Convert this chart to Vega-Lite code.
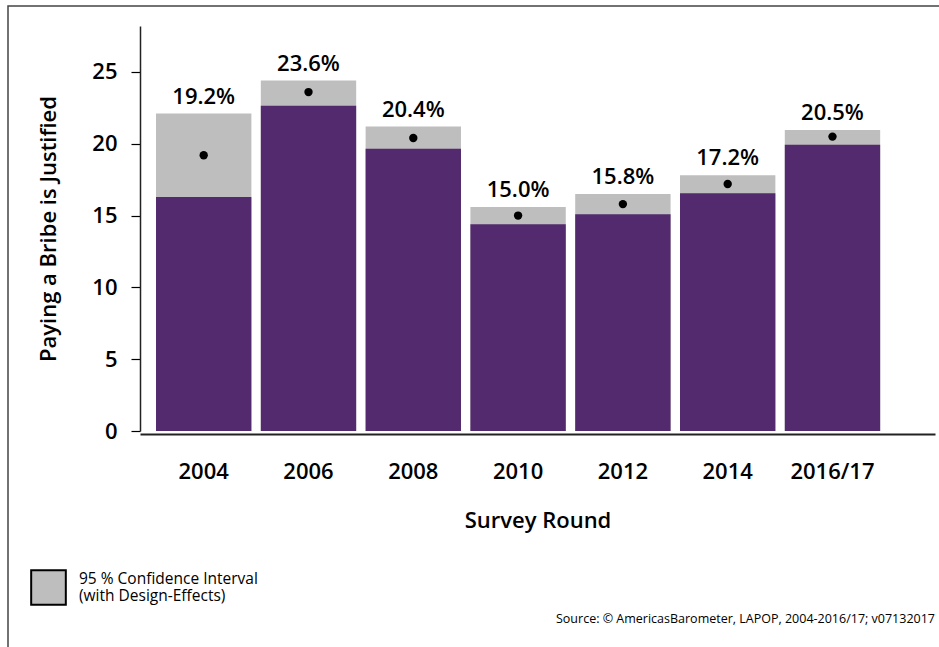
{
  "$schema": "https://vega.github.io/schema/vega-lite/v6.json",
  "autosize": {"type": "none"},
  "width": 931,
  "height": 641,
  "padding": {"left": 8, "top": 6, "right": 0, "bottom": 0},
  "background": "white",
  "config": {
    "font": "Open Sans",
    "view": {"stroke": "#444", "strokeWidth": 1.5, "strokeDash": [931, 1572, 641]},
    "axis": {"grid": false, "labelFont": "Open Sans", "titleFont": "Open Sans", "labelColor": "#000", "titleColor": "#000", "titleFontWeight": 600, "labelFontWeight": 600}
  },
  "title": {
    "text": "Source: © AmericasBarometer, LAPOP, 2004-2016/17; v07132017",
    "orient": "bottom",
    "anchor": "end",
    "frame": "group",
    "fontSize": 12.5,
    "fontWeight": 500,
    "font": "Open Sans",
    "color": "#000",
    "offset": -34,
    "dx": -4
  },
  "data": {
    "values": [
      {"round": "2004", "mean": 19.2, "lower": 16.3, "upper": 22.1, "label": "19.2%", "ci": "95 % Confidence Interval|(with Design-Effects)"},
      {"round": "2006", "mean": 23.6, "lower": 22.65, "upper": 24.4, "label": "23.6%", "ci": "95 % Confidence Interval|(with Design-Effects)"},
      {"round": "2008", "mean": 20.4, "lower": 19.65, "upper": 21.2, "label": "20.4%", "ci": "95 % Confidence Interval|(with Design-Effects)"},
      {"round": "2010", "mean": 15.0, "lower": 14.4, "upper": 15.6, "label": "15.0%", "ci": "95 % Confidence Interval|(with Design-Effects)"},
      {"round": "2012", "mean": 15.8, "lower": 15.1, "upper": 16.5, "label": "15.8%", "ci": "95 % Confidence Interval|(with Design-Effects)"},
      {"round": "2014", "mean": 17.2, "lower": 16.56, "upper": 17.8, "label": "17.2%", "ci": "95 % Confidence Interval|(with Design-Effects)"},
      {"round": "2016/17", "mean": 20.5, "lower": 19.93, "upper": 20.95, "label": "20.5%", "ci": "95 % Confidence Interval|(with Design-Effects)"}
    ]
  },
  "encoding": {
    "x": {
      "field": "round",
      "type": "nominal",
      "sort": null,
      "scale": {"range": [132, 927], "paddingInner": 0.09, "paddingOuter": 0.338, "align": 0.226},
      "axis": {
        "title": "Survey Round",
        "titleFontSize": 22,
        "titlePadding": 28,
        "labelAngle": 0,
        "labelFontSize": 22,
        "labelPadding": 27,
        "ticks": false,
        "domainColor": "#222",
        "domainWidth": 2,
        "offset": -213
      }
    }
  },
  "layer": [
    {
      "mark": {"type": "bar", "color": "#bebebe"},
      "encoding": {
        "y": {
          "field": "upper",
          "type": "quantitative",
          "scale": {"domain": [0, 28.2], "nice": false, "range": [425, 20]},
          "axis": {
            "title": "Paying a Bribe is Justified",
            "titleFontSize": 22,
            "titlePadding": 31,
            "values": [0, 5, 10, 15, 20, 25],
            "labelFontSize": 22,
            "labelPadding": 14,
            "tickSize": 9,
            "tickColor": "#000",
            "tickWidth": 1.2,
            "domainColor": "#222",
            "domainWidth": 1.5,
            "offset": -132
          }
        },
        "fill": {
          "field": "ci",
          "type": "nominal",
          "scale": {"range": ["#bebebe"]},
          "legend": {
            "title": null,
            "orient": "none",
            "legendX": 22,
            "legendY": 563,
            "symbolType": "square",
            "symbolSize": 1200,
            "symbolStrokeColor": "#000",
            "symbolStrokeWidth": 2,
            "symbolFillColor": "#b4b4b4",
            "labelFontSize": 15.5,
            "labelFontWeight": 500,
            "labelFont": "Open Sans",
            "labelColor": "#000",
            "labelOffset": 12,
            "labelLimit": 400,
            "labelBaseline": "line-bottom",
            "labelExpr": "split(datum.label, '|')"
          }
        }
      }
    },
    {
      "mark": {"type": "bar", "color": "#532a6e"},
      "encoding": {"y": {"field": "lower", "type": "quantitative"}}
    },
    {
      "mark": {"type": "point", "filled": true, "color": "#000", "size": 70, "opacity": 1},
      "encoding": {"y": {"field": "mean", "type": "quantitative"}}
    },
    {
      "mark": {"type": "text", "baseline": "bottom", "dy": -5, "fontSize": 22, "fontWeight": 600, "font": "Open Sans", "color": "#000"},
      "encoding": {
        "y": {"field": "upper", "type": "quantitative"},
        "text": {"field": "label"}
      }
    }
  ]
}
